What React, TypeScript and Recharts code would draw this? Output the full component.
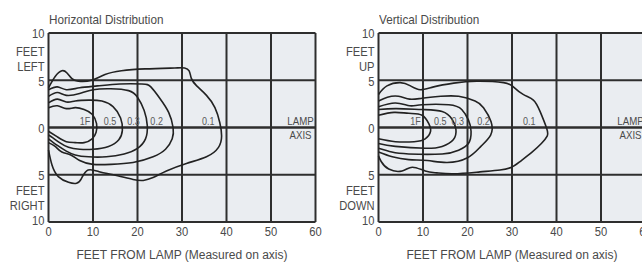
import { LineChart, Line, XAxis, YAxis, CartesianGrid, ReferenceLine, ReferenceDot } from 'recharts';

const xTicks = [0, 10, 20, 30, 40, 50, 60];
const yTicks = [-10, -5, 0, 5, 10];
const contourNames = ['1F', '0.5', '0.3', '0.2', '0.1'];

// Horizontal distribution, isofootcandle curves (feet from lamp, feet left/right)
const h1F = [
  { x: 0, y: 2.1 }, { x: 2, y: 2.3 }, { x: 4, y: 2.0 }, { x: 6, y: 2.1 }, { x: 8, y: 1.9 },
  { x: 9.8, y: 1.4 }, { x: 10.8, y: 0.4 }, { x: 10.7, y: -0.5 }, { x: 9.8, y: -1.2 },
  { x: 8, y: -1.6 }, { x: 6, y: -1.6 }, { x: 4, y: -1.5 }, { x: 2, y: -1.0 }, { x: 0, y: -0.4 },
];
const h05 = [
  { x: 0, y: 2.6 }, { x: 2, y: 3.0 }, { x: 4, y: 2.7 }, { x: 6, y: 2.8 }, { x: 9, y: 2.9 },
  { x: 12, y: 2.8 }, { x: 14.5, y: 2.2 }, { x: 16.2, y: 1.0 }, { x: 16.6, y: -0.3 },
  { x: 15.8, y: -1.3 }, { x: 13.5, y: -2.0 }, { x: 10, y: -2.3 }, { x: 7, y: -2.3 },
  { x: 4.5, y: -2.1 }, { x: 2.5, y: -1.6 }, { x: 1, y: -1.1 }, { x: 0, y: -0.8 },
];
const h03 = [
  { x: 0, y: 3.3 }, { x: 2, y: 3.7 }, { x: 4, y: 3.4 }, { x: 7, y: 3.6 }, { x: 10, y: 4.0 },
  { x: 14, y: 4.1 }, { x: 18, y: 3.9 }, { x: 20, y: 3.2 }, { x: 21.5, y: 1.8 }, { x: 22.2, y: 0.2 },
  { x: 21.8, y: -1.2 }, { x: 20, y: -2.2 }, { x: 17, y: -2.8 }, { x: 13, y: -3.1 }, { x: 9, y: -3.1 },
  { x: 6, y: -2.9 }, { x: 4, y: -2.5 }, { x: 2, y: -1.9 }, { x: 0, y: -1.2 },
];
const h02 = [
  { x: 0, y: 4.0 }, { x: 2, y: 4.3 }, { x: 4, y: 4.0 }, { x: 7, y: 4.2 }, { x: 11, y: 4.4 },
  { x: 16, y: 4.6 }, { x: 21, y: 4.6 }, { x: 23, y: 4.3 }, { x: 25, y: 3.1 }, { x: 27, y: 1.6 },
  { x: 28, y: 0 }, { x: 27.8, y: -1.2 }, { x: 26.3, y: -2.3 }, { x: 23.5, y: -3.1 }, { x: 19, y: -3.7 },
  { x: 14, y: -3.9 }, { x: 10, y: -3.9 }, { x: 7, y: -3.5 }, { x: 5, y: -2.9 }, { x: 3, y: -2.6 },
  { x: 1.5, y: -2.0 }, { x: 0, y: -1.6 },
];
const h01 = [
  { x: 0, y: 4.2 }, { x: 1.5, y: 5.4 }, { x: 3, y: 6.0 }, { x: 4.1, y: 5.8 }, { x: 5.2, y: 5.2 },
  { x: 6.7, y: 4.9 }, { x: 9.7, y: 5.0 }, { x: 12.7, y: 5.6 }, { x: 16.4, y: 6.0 }, { x: 21.7, y: 6.2 },
  { x: 28.4, y: 6.3 }, { x: 30.6, y: 6.3 }, { x: 31.6, y: 6.0 }, { x: 32.1, y: 5.2 }, { x: 33.3, y: 4.4 },
  { x: 35.5, y: 3.4 }, { x: 37.4, y: 2.1 }, { x: 38.5, y: 0.5 }, { x: 38.9, y: -0.9 }, { x: 38.2, y: -2.1 },
  { x: 35.5, y: -3.1 }, { x: 31, y: -3.8 }, { x: 26.5, y: -4.6 }, { x: 23.5, y: -5.3 }, { x: 21.3, y: -5.6 },
  { x: 19, y: -5.5 }, { x: 14.6, y: -5.0 }, { x: 11.6, y: -4.7 }, { x: 8.9, y: -4.5 }, { x: 7.4, y: -5.4 },
  { x: 6.3, y: -5.9 }, { x: 4.5, y: -5.8 }, { x: 2.2, y: -5.2 }, { x: 0.8, y: -4.0 }, { x: 0, y: -2.4 },
];

// Vertical distribution (feet from lamp, feet up/down)
const v1F = [
  { x: 0, y: 1.3 }, { x: 3.5, y: 1.6 }, { x: 6.8, y: 1.5 }, { x: 9.8, y: 1.3 }, { x: 11.3, y: 0.4 },
  { x: 11.7, y: -0.4 }, { x: 10.5, y: -1.2 }, { x: 8, y: -1.5 }, { x: 3.8, y: -1.5 }, { x: 0, y: -1.2 },
];
const v05 = [
  { x: 0, y: 1.9 }, { x: 4, y: 2.0 }, { x: 9.8, y: 1.9 }, { x: 14.3, y: 1.7 }, { x: 16.5, y: 0.9 },
  { x: 17.4, y: -0.2 }, { x: 16.8, y: -1.3 }, { x: 14.3, y: -2.0 }, { x: 10.5, y: -2.2 },
  { x: 3.8, y: -2.0 }, { x: 0, y: -1.7 },
];
const v03 = [
  { x: 0, y: 2.2 }, { x: 3.8, y: 2.6 }, { x: 7, y: 2.3 }, { x: 9.8, y: 2.4 }, { x: 15.8, y: 2.4 },
  { x: 18.7, y: 1.9 }, { x: 20.2, y: 0.8 }, { x: 20.8, y: -0.4 }, { x: 20.2, y: -1.7 }, { x: 18, y: -2.4 },
  { x: 14.3, y: -2.8 }, { x: 6.8, y: -2.8 }, { x: 3, y: -2.6 }, { x: 0, y: -2.2 },
];
const v02 = [
  { x: 0, y: 2.8 }, { x: 2, y: 3.2 }, { x: 4.5, y: 3.3 }, { x: 7, y: 3.0 }, { x: 9.8, y: 3.1 },
  { x: 14, y: 3.3 }, { x: 18, y: 3.3 }, { x: 21.7, y: 2.8 }, { x: 23.6, y: 2.1 }, { x: 25.3, y: 0.6 },
  { x: 25.2, y: -0.8 }, { x: 23, y: -2.0 }, { x: 20, y: -3.2 }, { x: 15.4, y: -3.7 }, { x: 11, y: -3.5 },
  { x: 6.8, y: -3.4 }, { x: 3.1, y: -3.1 }, { x: 0, y: -2.6 },
];
const v01 = [
  { x: 0, y: 3.5 }, { x: 1.9, y: 4.4 }, { x: 4.9, y: 4.75 }, { x: 7.2, y: 4.4 }, { x: 9.4, y: 4.0 },
  { x: 12.4, y: 4.3 }, { x: 16.9, y: 4.7 }, { x: 22.1, y: 4.9 }, { x: 28.1, y: 4.75 }, { x: 30.3, y: 4.3 },
  { x: 32.5, y: 3.5 }, { x: 34.8, y: 2.9 }, { x: 36.3, y: 1.7 }, { x: 37.8, y: -0.1 }, { x: 37.9, y: -0.9 },
  { x: 36.6, y: -1.7 }, { x: 34.5, y: -2.6 }, { x: 31.8, y: -3.6 }, { x: 29.9, y: -4.2 }, { x: 27.3, y: -4.5 },
  { x: 22.8, y: -4.7 }, { x: 16.9, y: -4.9 }, { x: 13.1, y: -4.8 }, { x: 10.5, y: -4.6 }, { x: 7.6, y: -4.2 },
  { x: 5.3, y: -4.6 }, { x: 2.3, y: -4.4 }, { x: 0.6, y: -3.6 }, { x: 0, y: -3.0 },
];

const hLabelX = [8.2, 13.8, 19.1, 24.3, 35.9];
const vLabelX = [8.3, 13.9, 17.8, 23.6, 33.9];
const labelY = 0.65;

const FONT = "'Liberation Sans', Arial, sans-serif";
const TEXT = '#4a4a4a';
const GRID = '#2e2e2e';

// condensed-looking text: Arial metrics squeezed horizontally
function NText({ x, y, anchor = 'middle', size = 13, sx = 0.86, fill = TEXT, children }: any) {
  return (
    <text
      transform={`translate(${x},${y}) scale(${sx},1)`}
      textAnchor={anchor}
      dominantBaseline="central"
      fontFamily={FONT}
      fontSize={size}
      fill={fill}
    >
      {children}
    </text>
  );
}

function SideTick(props: any) {
  const { x, y, payload, up, down } = props;
  const v = payload.value;
  return (
    <g>
      <NText x={x} y={v === -10 ? y - 1 : y + 1} anchor="end">{Math.abs(v)}</NText>
      {v === 10 && (
        <>
          <NText x={x} y={y + 18.5} anchor="end">FEET</NText>
          <NText x={x} y={y + 33.5} anchor="end">{up}</NText>
        </>
      )}
      {v === -10 && (
        <>
          <NText x={x} y={y - 31} anchor="end">FEET</NText>
          <NText x={x} y={y - 16} anchor="end">{down}</NText>
        </>
      )}
    </g>
  );
}

function BottomTick(props: any) {
  const { x, y, payload } = props;
  return <NText x={x} y={y + 10}>{payload.value}</NText>;
}

function AxisTitle(props: any) {
  const { viewBox } = props;
  return (
    <NText x={viewBox.x + viewBox.width / 2} y={viewBox.y + 32.5} size={13.5} sx={0.89}>
      FEET FROM LAMP (Measured on axis)
    </NText>
  );
}

function LampLabel(props: any) {
  const { viewBox } = props;
  const cx = viewBox.x + viewBox.width - 15;
  return (
    <g>
      <NText x={cx} y={viewBox.y - 6} size={11} sx={0.88}>LAMP</NText>
      <NText x={cx} y={viewBox.y + 8} size={11} sx={0.88}>AXIS</NText>
    </g>
  );
}

function CurveLabel(props: any) {
  const { viewBox, value } = props;
  return (
    <NText x={viewBox.x + viewBox.width / 2} y={viewBox.y + viewBox.height / 2} size={11} sx={0.82} fill="#5a5a5a">
      {value}
    </NText>
  );
}

function Panel({ left, title, up, down, curves, labelXs }: any) {
  return (
    <div style={{ position: 'absolute', left, top: 0, width: 330, height: 263 }}>
      <div
        style={{
          position: 'absolute',
          left: 49,
          top: 12,
          fontFamily: FONT,
          fontSize: 13,
          lineHeight: '15px',
          color: TEXT,
          whiteSpace: 'nowrap',
          transform: 'scaleX(0.9)',
          transformOrigin: 'left top',
        }}
      >
        {title}
      </div>
      <LineChart width={330} height={263} margin={{ top: 33, right: 14.5, bottom: 0, left: 0 }}>
        <CartesianGrid stroke={GRID} strokeWidth={2} fill="#eaedf1" fillOpacity={1} />
        <XAxis
          type="number"
          dataKey="x"
          domain={[0, 60]}
          ticks={xTicks}
          height={41}
          axisLine={false}
          tickLine={false}
          tickSize={0}
          tickMargin={0}
          tick={<BottomTick />}
          label={{ position: 'insideBottom', content: <AxisTitle /> }}
        />
        <YAxis
          type="number"
          dataKey="y"
          domain={[-10, 10]}
          ticks={yTicks}
          width={48.5}
          axisLine={false}
          tickLine={false}
          tickSize={0}
          tickMargin={4}
          tick={(p: any) => <SideTick {...p} up={up} down={down} />}
        />
        <ReferenceLine y={0} stroke={GRID} strokeWidth={2} label={<LampLabel />} />
        {curves.map((c: any[], i: number) => (
          <Line
            key={contourNames[i]}
            data={c}
            dataKey="y"
            type="natural"
            stroke="#222"
            strokeWidth={1.6}
            dot={false}
            activeDot={false}
            isAnimationActive={false}
          />
        ))}
        {labelXs.map((lx: number, i: number) => (
          <ReferenceDot
            key={'l' + i}
            x={lx}
            y={labelY}
            r={0}
            stroke="none"
            fill="none"
            label={<CurveLabel value={contourNames[i]} />}
          />
        ))}
      </LineChart>
    </div>
  );
}

export default function App() {
  return (
    <div
      style={{
        position: 'absolute',
        left: 0,
        top: 0,
        width: 642,
        height: 263,
        overflow: 'hidden',
        background: '#fff',
      }}
    >
      <Panel
        left={0}
        title="Horizontal Distribution"
        up="LEFT"
        down="RIGHT"
        curves={[h1F, h05, h03, h02, h01]}
        labelXs={hLabelX}
      />
      <Panel
        left={329.5}
        title="Vertical Distribution"
        up="UP"
        down="DOWN"
        curves={[v1F, v05, v03, v02, v01]}
        labelXs={vLabelX}
      />
    </div>
  );
}
